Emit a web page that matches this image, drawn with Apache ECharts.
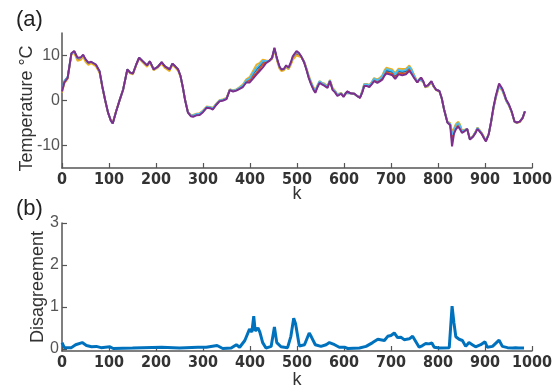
<!DOCTYPE html>
<html><head><meta charset="utf-8">
<script src="https://cdn.jsdelivr.net/npm/echarts@6/dist/echarts.min.js"></script>
<style>html,body{margin:0;padding:0;background:#fff}#c{width:555px;height:390px}</style>
</head><body><div id="c"></div>
<script>
// ---- Panel (a): temperature, time index k ----
const kTemp = [
0,5,12,20,26,33,40,45,50,56,
62,66,72,80,86,92,98,104,108,115,
123,130,139,145,151,158,164,172,181,187,
195,204,212,219,229,235,241,247,252,257,
262,268,274,279,286,293,300,308,315,321,
328,335,343,350,357,364,371,378,385,392,
399,406,414,420,427,434,441,447,452,456,
459,463,467,472,477,482,487,491,499,504,
509,515,520,525,530,535,539,543,548,553,
558,565,570,576,581,586,590,594,599,603,
607,614,622,628,634,639,643,649,654,659,
664,671,677,682,686,690,697,703,709,716,
724,732,739,744,748,756,760,764,769,773,
779,786,791,796,803,808,813,820,826,830,
834,838,843,847,851,857,862,868,875,880,
884,889,894,898,902,908,913,918,923,930,
937,941,945,951,957,963,968,974,980,985];

const tempBlue = [
2.5,4.3,5.2,10.4,10.9,9.3,9.4,10,9,8.2,
8.5,8.9,7.9,6.4,3,0,-2.7,-4.5,-5.1,-2.5,
0.2,2.4,6.9,6.2,6,8,9.5,8.7,7.8,8.7,
6.9,7.5,8.5,7.6,6.9,8.2,7.6,6.9,5.5,3,
0.1,-2.6,-3.3,-3.4,-3.1,-3,-2.4,-1.5,-1.6,-1.8,
-0.9,-0.1,0.1,0.4,2.4,2.1,2.3,2.8,3.3,4.3,
4.7,5.8,6.9,7.5,8.5,8.7,8.8,9.4,11.5,9.8,
8.6,7.3,6.8,6.9,7.6,7.1,8.2,9.4,10.5,10.2,
9.7,8.6,7,5.2,3.8,2.6,1.9,3,4.1,3.8,
3.5,3,4.4,2.5,2,1.2,1.5,1.6,0.9,1.5,
2,1.6,1.5,1,0.6,2,3.4,3.4,3.2,3.9,
4.7,4.3,4.7,5.2,6.1,6.6,6.5,6.3,5.5,6.5,
6.3,6.5,7.2,6.5,5.6,4.1,4.6,5.1,4.1,3,
3.3,4.2,3.1,2.4,2.1,0.5,-2,-4.8,-5.3,-8.2,
-6.8,-5.8,-5.2,-5.8,-6.9,-6.6,-6.3,-8.6,-7.9,-7,
-6.2,-6.8,-7.5,-8.3,-9,-7.5,-4.8,-1.7,0.8,3.5,
2.4,1.3,0.1,-1,-2.6,-4.7,-4.9,-4.7,-3.9,-2.4];

const tempRed = [
2.2,4.1,5,10.3,10.8,9.1,9.3,9.9,8.9,8.1,
8.5,8.8,7.8,6.3,2.9,0,-2.7,-4.5,-5,-2.4,
0.2,2.4,6.9,6.2,6,8,9.5,8.7,7.8,8.7,
6.9,7.5,8.5,7.6,6.9,8.2,7.6,6.9,5.5,3,
0.1,-2.6,-3.3,-3.4,-3.1,-3,-2.4,-1.5,-1.6,-1.8,
-0.9,-0.1,0.1,0.4,2.4,2.1,2.3,2.7,3.2,4.1,
4.5,5.3,6.2,7,8,8.6,8.8,9.4,11.5,9.8,
8.6,7.3,6.8,6.9,7.6,7.1,8.2,9.4,10.5,10.2,
9.7,8.6,7,5.2,3.8,2.6,1.9,3,4.1,3.8,
3.4,2.9,4.4,2.4,1.9,1.1,1.5,1.6,0.9,1.5,
2,1.6,1.5,1,0.6,1.9,3.3,3.3,3.1,3.8,
4.5,4.1,4.5,5,5.8,6.3,6.1,5.9,5.1,6.1,
6,6.1,6.9,6.2,5.4,4,4.6,5.1,4.1,3,
3.3,4.2,3.1,2.4,2.1,0.5,-2,-4.8,-5.3,-8.8,
-7,-6,-5.5,-6,-7,-6.7,-6.3,-8.6,-7.9,-7.1,
-6.2,-6.8,-7.5,-8.3,-9,-7.5,-4.8,-1.7,0.8,3.4,
2.4,1.3,0.1,-1,-2.6,-4.7,-4.9,-4.7,-3.9,-2.4];

const tempYellow = [
1.8,3.8,4.8,10.2,10.6,8.8,9,9.7,8.6,7.9,
8.3,8.6,7.6,6.1,2.8,-0.1,-2.8,-4.4,-5,-2.4,
0.2,2.4,6.8,6,5.8,7.8,9.3,8.4,7.5,8.4,
6.7,7.3,8.2,7.2,6.5,7.9,7.3,6.6,5.3,2.9,
0.2,-2.5,-3.2,-3.2,-2.9,-2.8,-2.2,-1.3,-1.4,-1.6,
-0.7,0.1,0.3,0.6,2.5,2.3,2.5,3,3.6,4.7,
5.2,6.5,8,8.3,9.1,8.9,8.8,9.2,11.2,9.5,
8.3,7,6.5,6.7,7.4,6.9,7.9,9,10,9.8,
9.6,8.8,7.3,5.6,4.2,3,2.3,3.3,4.3,4,
3.8,3.3,4.6,2.8,2.2,1.4,1.6,1.7,1.1,1.6,
2,1.6,1.5,1,0.7,2.2,3.7,3.7,3.5,4.1,
5,4.7,5.1,5.7,6.7,7.3,7.1,6.9,6.1,7.1,
7,7.1,7.8,7,6,4.2,4.7,5,4,2.9,
3.1,4,3,2.3,2,0.5,-2,-4.6,-5,-6.9,
-6.2,-5.2,-4.7,-5.3,-6.6,-6.5,-6.3,-8.5,-7.8,-6.9,
-6,-6.6,-7.3,-8.1,-8.8,-7.4,-4.9,-1.9,0.5,3,
2.1,1.1,-0.1,-1.2,-2.7,-4.8,-5,-4.8,-4,-2.5];

const tempCyan = [
2.4,4.2,5.1,10.4,10.9,9.3,9.5,10.1,9.1,8.3,
8.6,9,8,6.5,3,0,-2.7,-4.5,-5.1,-2.5,
0.2,2.4,6.9,6.2,6,8,9.5,8.7,7.8,8.7,
6.9,7.5,8.5,7.6,6.9,8.2,7.6,6.9,5.5,3,
0.1,-2.6,-3.3,-3.3,-3,-2.9,-2.3,-1.4,-1.5,-1.7,
-0.8,0,0.2,0.5,2.4,2.2,2.4,2.9,3.4,4.5,
4.9,6.1,7.3,7.9,8.8,8.8,8.8,9.4,11.5,9.8,
8.7,7.4,6.9,7,7.7,7.2,8.4,9.6,10.8,10.4,
9.8,8.7,7.1,5.4,4,2.8,2.1,3.2,4.3,3.9,
3.6,3.1,4.5,2.6,2.1,1.3,1.5,1.6,1,1.6,
2,1.6,1.5,1,0.7,2.1,3.6,3.6,3.4,4,
4.9,4.5,4.9,5.5,6.4,7,6.8,6.6,5.8,6.8,
6.6,6.8,7.5,6.8,5.8,4.1,4.7,5.1,4.1,3,
3.3,4.2,3.1,2.4,2.1,0.5,-2,-4.7,-5.2,-7.6,
-6.6,-5.5,-5,-5.6,-6.8,-6.6,-6.3,-8.6,-7.9,-7,
-6.1,-6.7,-7.4,-8.2,-8.9,-7.4,-4.8,-1.8,0.7,3.3,
2.3,1.2,0,-1.1,-2.6,-4.7,-4.9,-4.7,-3.9,-2.4];

const tempPurple = [
2,4,5,10.5,11,9.5,9.6,10.2,9.2,8.4,
8.6,9,8,6.5,3,0,-2.7,-4.5,-5.1,-2.5,
0.2,2.4,6.9,6.2,6,8,9.5,8.7,7.8,8.7,
6.9,7.5,8.5,7.6,6.9,8.2,7.6,6.9,5.5,3,
0,-2.7,-3.5,-3.6,-3.3,-3.2,-2.6,-1.6,-1.7,-2,
-1,-0.2,0,0.3,2.3,2,2.2,2.6,3,4,
4,4.8,5.8,6.5,7.3,8.3,8.8,9.5,11.7,10,
8.8,7.5,6.9,7,7.8,7.3,8.5,9.8,11,10.6,
9.8,8.5,6.9,5,3.6,2.4,1.7,2.8,3.9,3.6,
3.3,2.8,4.3,2.3,1.8,1,1.4,1.5,0.8,1.5,
2,1.6,1.5,1,0.6,1.8,3.2,3.2,3,3.6,
4.3,3.9,4.3,4.7,5.5,6,5.8,5.6,4.8,5.8,
5.6,5.8,6.6,5.9,5.2,4,4.6,5.1,4.2,3.1,
3.4,4.3,3.2,2.4,2.1,0.5,-2,-4.9,-5.5,-10.2,
-7.4,-6.4,-5.8,-6.4,-7.2,-6.8,-6.3,-8.7,-8,-7.2,
-6.3,-6.9,-7.6,-8.4,-9.1,-7.5,-4.7,-1.5,1,3.8,
2.6,1.5,0.2,-0.9,-2.5,-4.7,-4.9,-4.7,-3.9,-2.4];

// ---- Panel (b): disagreement ----
const kDis = [0,5,20,29,43,52,63,73,83,102,109,150,212,250,289,307,330,342,360,371,378,389,399,404,408,411,417,421,427,434,445,452,457,466,480,487,493,497,505,509,516,526,530,539,551,562,569,580,590,601,608,633,647,661,672,686,693,700,707,714,721,728,739,746,753,760,767,774,781,787,792,803,824,830,834,838,845,852,859,866,873,880,891,900,905,916,930,937,948,959,965,972,983];
const disValues = [0.15,0.03,0.03,0.1,0.15,0.08,0.05,0.06,0.03,0.05,0.01,0.02,0.04,0.02,0.04,0.04,0.08,0.01,0.02,0.1,0.04,0.2,0.47,0.4,0.78,0.43,0.5,0.4,0.15,0.02,0.06,0.52,0.15,0.05,0.03,0.3,0.73,0.6,0.07,0.05,0.1,0.38,0.3,0.1,0.06,0.1,0.15,0.1,0.04,0.04,0.01,0.02,0.06,0.15,0.23,0.2,0.3,0.32,0.38,0.27,0.28,0.22,0.24,0.3,0.17,0.04,0.08,0.13,0.12,0.14,0.04,0.02,0.03,1.02,0.62,0.29,0.23,0.2,0.06,0.15,0.1,0.05,0.1,0.17,0.04,0.06,0.21,0.06,0.03,0.02,0.03,0.02,0.02];

const tempTicks = [-10,0,10];
const disTicks = [0,1,2,3];

const pairs = (xs, ys) => xs.map((x, i) => [x, ys[i]]);
const axisCol = '#555';
const xAxisCommon = (gi) => ({
  type: 'value', gridIndex: gi, min: 0, max: 1000, interval: 100,
  name: 'k', nameLocation: 'middle', nameGap: gi === 0 ? 17 : 20, nameMoveOverlap: false,
  nameTextStyle: { fontFamily: 'Liberation Sans, Arial', fontSize: 18, color: '#333' },
  axisLine: { show: true, onZero: false, lineStyle: { color: axisCol, width: 1.5 } },
  axisTick: { show: true, inside: true, length: 5, lineStyle: { color: axisCol, width: 1.2 } },
  axisLabel: { margin: 4, formatter: (v) => String(v),
    fontFamily: "'Liberation Sans Narrow', 'Arial Narrow', 'DejaVu Sans Condensed', sans-serif", fontWeight: 'bold', fontSize: 16, color: '#333' },
  splitLine: { show: false }
});

const option = {
  animation: false,
  backgroundColor: '#fff',
  title: [
    { text: '(a)', left: 11, top: 4, textStyle: { fontFamily: 'Liberation Sans, Arial', fontSize: 22, fontWeight: 'normal', color: '#222' } },
    { text: '(b)', left: 11, top: 193, textStyle: { fontFamily: 'Liberation Sans, Arial', fontSize: 22, fontWeight: 'normal', color: '#222' } }
  ],
  grid: [
    { left: 62, top: 33, width: 471, height: 135 },
    { left: 62, top: 223, width: 471, height: 132 }
  ],
  xAxis: [ xAxisCommon(0), xAxisCommon(1) ],
  yAxis: [
    { type: 'value', gridIndex: 0, min: -15, max: 15,
      name: 'Temperature °C', nameLocation: 'middle', nameGap: 26, nameMoveOverlap: false,
      nameTextStyle: { fontFamily: 'Liberation Sans, Arial', fontSize: 18, color: '#333', padding: [0, 16, 0, 0] },
      axisLine: { show: true, onZero: false, lineStyle: { color: axisCol, width: 1.5 } },
      axisTick: { show: true, inside: true, length: 5, customValues: tempTicks, lineStyle: { color: axisCol, width: 1.2 } },
      axisLabel: { margin: 2, customValues: tempTicks, fontFamily: 'Liberation Sans, Arial', fontSize: 16, color: '#555' },
      splitLine: { show: false } },
    { type: 'value', gridIndex: 1, min: -0.05, max: 3,
      name: 'Disagreement', nameLocation: 'middle', nameGap: 15, nameMoveOverlap: false,
      nameTextStyle: { fontFamily: 'Liberation Sans, Arial', fontSize: 18, color: '#333' },
      axisLine: { show: true, onZero: false, lineStyle: { color: axisCol, width: 1.5 } },
      axisTick: { show: true, inside: true, length: 5, customValues: disTicks, lineStyle: { color: axisCol, width: 1.2 } },
      axisLabel: { margin: 3, customValues: disTicks, fontFamily: 'Liberation Sans, Arial', fontSize: 16, color: '#555' },
      splitLine: { show: false } }
  ],
  series: [
    { name: 'blue', type: 'line', xAxisIndex: 0, yAxisIndex: 0, data: pairs(kTemp, tempBlue), showSymbol: false, lineStyle: { color: '#0072BD', width: 1.8 } },
    { name: 'red', type: 'line', xAxisIndex: 0, yAxisIndex: 0, data: pairs(kTemp, tempRed), showSymbol: false, lineStyle: { color: '#D95319', width: 1.8 } },
    { name: 'yellow', type: 'line', xAxisIndex: 0, yAxisIndex: 0, data: pairs(kTemp, tempYellow), showSymbol: false, lineStyle: { color: '#EDB120', width: 1.8 } },
    { name: 'cyan', type: 'line', xAxisIndex: 0, yAxisIndex: 0, data: pairs(kTemp, tempCyan), showSymbol: false, lineStyle: { color: '#4DBEEE', width: 1.8 } },
    { name: 'purple', type: 'line', xAxisIndex: 0, yAxisIndex: 0, data: pairs(kTemp, tempPurple), showSymbol: false, lineStyle: { color: '#7E2F8E', width: 2 } },
    { name: 'disagreement', type: 'line', xAxisIndex: 1, yAxisIndex: 1, data: pairs(kDis, disValues), showSymbol: false, lineStyle: { color: '#0072BD', width: 3 } }
  ]
};
echarts.init(document.getElementById('c'), null, { renderer: 'canvas' }).setOption(option);
</script>
</body></html>
